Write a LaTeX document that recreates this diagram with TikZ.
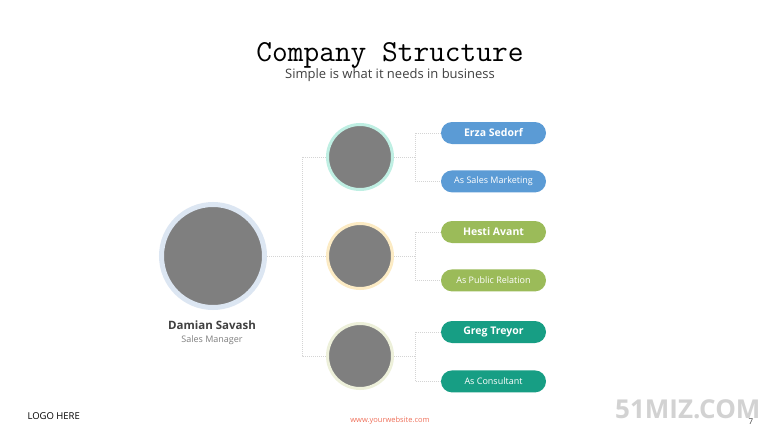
\documentclass[tikz,border=0pt]{standalone}
\usepackage{fontspec}
\setmainfont{Open Sans}
\usetikzlibrary{positioning,calc}
\definecolor{photogray}{HTML}{7F7F7F}
\definecolor{linkgray}{HTML}{D4D4D4}
\definecolor{bossring}{HTML}{DCE6F2}
\definecolor{mintring}{HTML}{BFEFE3}
\definecolor{creamring}{HTML}{FCEBC4}
\definecolor{paleing}{HTML}{EDF0DA}
\definecolor{pillblue}{HTML}{5B9BD5}
\definecolor{pillgreen}{HTML}{9BBB59}
\definecolor{pillteal}{HTML}{179E84}
\definecolor{textdark}{HTML}{404040}
\definecolor{webred}{HTML}{F0705A}
\definecolor{markgray}{HTML}{D2D2D2}
\tikzset{
photo/.style = {draw=#1, circle, fill=photogray, line width=3pt, minimum size=65pt, inner sep=0pt},
bossphoto/.style = {draw=bossring, circle, fill=photogray, line width=5pt, minimum size=103pt, inner sep=0pt},
pill/.style = {fill=#1, rounded corners=11pt, minimum width=105pt, minimum height=22pt, inner sep=0pt, text=white},
namepill/.style = {pill=#1, font=\fontsize{10.5}{12}\selectfont\bfseries},
rolepill/.style = {pill=#1, font=\fontsize{9}{10}\selectfont},
joint/.style = {coordinate},
link/.style = {draw=linkgray, line width=0.8pt, dash pattern=on 1pt off 1pt}
}

\begin{document}
\begin{tikzpicture}[x=1pt, y=-1pt, node distance=26pt]
  \useasboundingbox [fill=white] (0,0) rectangle (780,439);

  % heading
  \node (title)    at (390,55) {\ttfamily\fontsize{30.5}{32}\selectfont Company Structure};
  \node (subtitle) at (390,75) {\fontsize{13}{15}\selectfont\color{textdark}Simple is what it needs in business};

  % manager
  \node [bossphoto]                        (boss)     at (213,256) {};
  \node [font=\fontsize{11.5}{13}\selectfont\bfseries, text=textdark] (bossname) at (212,325) {Damian Savash};
  \node [font=\fontsize{9}{10}\selectfont, text=photogray]  (bossrole) at (212,340) {Sales Manager};

  % team
  \node [photo=mintring]  (teama) at (360,157) {};
  \node [photo=creamring] (teamb) at (360,256) {};
  \node [photo=paleing]   (teamc) at (360,356) {};

  \node [namepill=pillblue]  (namea) at (493.5,133) {Erza Sedorf};
  \node [rolepill=pillblue,  below=26pt of namea] (rolea) {As Sales Marketing};
  \node [namepill=pillgreen] (nameb) at (493.5,232) {Hesti Avant};
  \node [rolepill=pillgreen, below=26pt of nameb] (roleb) {As Public Relation};
  \node [namepill=pillteal]  (namec) at (493.5,332) {Greg Treyor};
  \node [rolepill=pillteal,  below=27pt of namec] (rolec) {As Consultant};

  \node [joint] (spinea) at (302,157) {};
  \node [joint] (spinec) at (302,356) {};
  \node [joint] (forka)  at (415,157) {};
  \node [joint] (forkb)  at (415,256) {};
  \node [joint] (forkc)  at (415,356) {};

  % links
  \draw [link] (boss) -- (teamb);
  \draw [link] (teama) -- (spinea) -- (spinec) -- (teamc);
  \draw [link] (teama) -- (forka);
  \draw [link] (teamb) -- (forkb);
  \draw [link] (teamc) -- (forkc);
  \draw [link] (namea.west) -| (forka) |- (rolea.west);
  \draw [link] (nameb.west) -| (forkb) |- (roleb.west);
  \draw [link] (namec.west) -| (forkc) |- (rolec.west);

  % footer
  \node [anchor=west, font=\fontsize{9.5}{10}\selectfont, text=black] (logo) at (24,416) {LOGO HERE};
  \node [font=\fontsize{7.5}{8}\selectfont, text=webred] (web) at (390,421) {www.yourwebsite.com};
  \node [anchor=east, font=\fontsize{26}{28}\selectfont\bfseries, text=markgray] (mark) at (764,409) {51MIZ.COM};
  \node [font=\fontsize{8}{9}\selectfont, text=textdark] (page) at (751,422) {7};
\end{tikzpicture}
\end{document}
